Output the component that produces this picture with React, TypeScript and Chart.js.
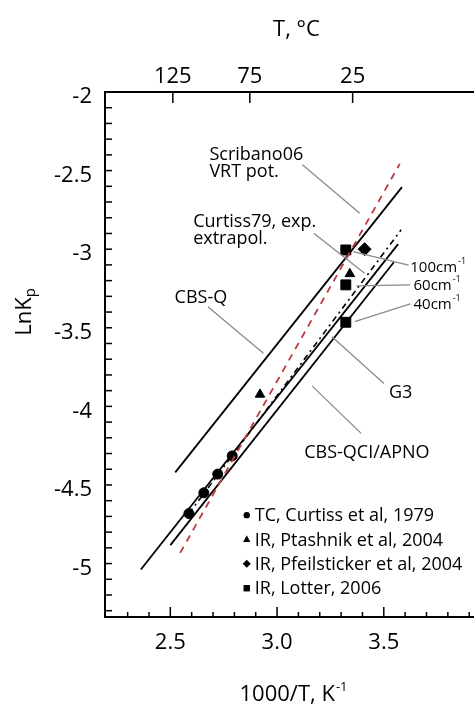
import React, { useEffect, useRef } from "react";
import { Chart, registerables } from "chart.js";

Chart.register(...registerables);

const FONT = '"Open Sans", "Noto Sans", "DejaVu Sans", sans-serif';

// ---- axes ----
const X_MIN = 2.194;
const X_MAX = 3.96;
const Y_MIN = -5.34;
const Y_MAX = -2;
const xTickValues = [2.5, 3.0, 3.5];
const yTickValues = [-5, -4.5, -4, -3.5, -3, -2.5, -2];
const topTickCelsius = [125, 75, 25];

// ---- measurements ----
const tcCurtissX = [2.587, 2.657, 2.722, 2.79];
const tcCurtissY = [-4.682, -4.55, -4.431, -4.315];
const ptashnikX = [2.92, 3.341];
const ptashnikY = [-3.924, -3.157];
const pfeilstickerX = [3.41];
const pfeilstickerY = [-3.0];
const lotterX = [3.322, 3.322, 3.322];
const lotterY = [-3.005, -3.227, -3.465];

// ---- model / fit lines (end points) ----
const cbsqX = [2.523, 3.585];
const cbsqY = [-4.42, -2.605];
const scribanoX = [2.546, 3.575];
const scribanoY = [-4.932, -2.457];
const curtissFitX = [2.587, 3.581];
const curtissFitY = [-4.682, -2.877];
const g3X = [2.362, 3.567];
const g3Y = [-5.038, -2.968];
const cbsqciX = [2.5, 3.547];
const cbsqciY = [-4.883, -3.083];

// ---- annotations (data units) ----
const annotationTexts = [
  { lines: ["Scribano06", "VRT pot."], x: 2.683, y: -2.399 },
  { lines: ["Curtiss79, exp.", "extrapol."], x: 2.607, y: -2.824 },
  { lines: ["CBS-Q"], x: 2.52, y: -3.307 },
  { lines: ["G3"], x: 3.524, y: -3.912 },
  { lines: ["CBS-QCI/APNO"], x: 3.127, y: -4.294 },
];
const leaderLines = [
  [3.119, -2.463, 3.387, -2.771],
  [3.172, -2.898, 3.41, -3.153],
  [2.676, -3.366, 2.936, -3.662],
  [3.501, -3.854, 3.257, -3.557],
  [3.394, -4.172, 3.165, -3.871],
  [3.616, -3.102, 3.356, -3.015],
  [3.624, -3.227, 3.372, -3.234],
  [3.624, -3.348, 3.364, -3.461],
];
const wavenumberTexts = [
  { value: "100", x: 3.624, y: -3.119 },
  { value: "60", x: 3.639, y: -3.231 },
  { value: "40", x: 3.639, y: -3.352 },
];
const legendX = 2.858;
const legendY0 = -4.692;
const legendStep = 0.155;

const pts = (xs: number[], ys: number[]) => xs.map((x, i) => ({ x, y: ys[i] }));

const lineDs = (label: string, xs: number[], ys: number[], color: string, dash: number[] = [], width = 1.8) => ({
  label,
  data: pts(xs, ys),
  showLine: true,
  borderColor: color,
  backgroundColor: color,
  borderWidth: width,
  borderDash: dash,
  pointRadius: 0,
  pointHoverRadius: 0,
  fill: false,
  tension: 0,
});

const markerDs = (label: string, xs: number[], ys: number[], style: string, radius: number, legendR: number) => ({
  label,
  data: pts(xs, ys),
  showLine: false,
  pointStyle: style,
  pointRadius: radius,
  pointHoverRadius: radius,
  backgroundColor: "#000",
  borderColor: "#000",
  borderWidth: 1,
  legendMarker: true,
  legendR,
});

function drawShape(ctx: CanvasRenderingContext2D, style: string, x: number, y: number, r: number) {
  ctx.beginPath();
  if (style === "circle") ctx.arc(x, y, r, 0, Math.PI * 2);
  else if (style === "triangle") {
    ctx.moveTo(x, y - r * 1.15);
    ctx.lineTo(x + r, y + r * 0.7);
    ctx.lineTo(x - r, y + r * 0.7);
    ctx.closePath();
  } else if (style === "rectRot") {
    ctx.moveTo(x, y - r);
    ctx.lineTo(x + r, y);
    ctx.lineTo(x, y + r);
    ctx.lineTo(x - r, y);
    ctx.closePath();
  } else ctx.rect(x - r, y - r, 2 * r, 2 * r);
  ctx.fill();
}

const decorPlugin = {
  id: "decor",
  afterDraw(chart: any) {
    const { ctx, chartArea: ca, scales } = chart;
    const xs = scales.x;
    const ys = scales.y;
    const X = (v: number) => xs.getPixelForValue(v);
    const Y = (v: number) => ys.getPixelForValue(v);
    const seg = (x1: number, y1: number, x2: number, y2: number) => {
      ctx.beginPath();
      ctx.moveTo(x1, y1);
      ctx.lineTo(x2, y2);
      ctx.stroke();
    };
    ctx.save();
    // inward tick marks
    ctx.strokeStyle = "#000";
    ctx.lineWidth = 1.5;
    for (let k = 22; k <= 39; k++) {
      const px = X(k / 10);
      if (px < ca.left + 2 || px > ca.right) continue;
      seg(px, ca.bottom, px, ca.bottom - (k % 5 === 0 ? 10 : 5));
    }
    for (let k = 21; k <= 53; k++) {
      const py = Y(-k / 10);
      seg(ca.left, py, ca.left + 7, py);
    }
    topTickCelsius.forEach((t) => {
      const px = X(1000 / (t + 273.15));
      seg(px, ca.top, px, ca.top + 11);
    });

    // leader lines
    ctx.strokeStyle = "#8a8a8a";
    ctx.lineWidth = 1.3;
    leaderLines.forEach(([x1, y1, x2, y2]) => seg(X(x1), Y(y1), X(x2), Y(y2)));

    // annotation texts
    ctx.fillStyle = "#000";
    ctx.textBaseline = "middle";
    ctx.textAlign = "left";
    ctx.font = `18px ${FONT}`;
    annotationTexts.forEach((a) => {
      a.lines.forEach((s, i) => ctx.fillText(s, X(a.x), Y(a.y) + i * 17.5));
    });
    wavenumberTexts.forEach((w) => {
      ctx.font = `15px ${FONT}`;
      const s = w.value + "cm";
      ctx.fillText(s, X(w.x), Y(w.y));
      const wd = ctx.measureText(s).width;
      ctx.font = `9px ${FONT}`;
      ctx.fillText("-1", X(w.x) + wd + 1, Y(w.y) - 6);
    });

    // legend
    const items = chart.data.datasets.filter((d: any) => d.legendMarker);
    items.forEach((d: any, i: number) => {
      const mx = X(legendX);
      const my = Y(legendY0) + i * legendStep * (Y(-3) - Y(-2));
      ctx.fillStyle = "#000";
      drawShape(ctx, d.pointStyle, mx, my, d.legendR);
      ctx.font = `18px ${FONT}`;
      ctx.fillText(d.label, mx + 8, my + 1);
    });

    // axis titles
    const cx = (ca.left + ca.right) / 2;
    ctx.textAlign = "left";
    ctx.font = `22px ${FONT}`;
    const t1 = "T, °C";
    const w1 = ctx.measureText(t1).width;
    ctx.fillText(t1, cx - w1 / 2 + 3, 30);

    const base = "1000/T, K";
    ctx.font = `22px ${FONT}`;
    const wb = ctx.measureText(base).width;
    ctx.font = `13px ${FONT}`;
    const ws = ctx.measureText("-1").width;
    const sx = cx - (wb + ws + 1) / 2;
    ctx.font = `22px ${FONT}`;
    ctx.fillText(base, sx, 695);
    ctx.font = `13px ${FONT}`;
    ctx.fillText("-1", sx + wb + 1, 687);

    ctx.translate(25, 312);
    ctx.rotate(-Math.PI / 2);
    ctx.font = `22px ${FONT}`;
    const wl = ctx.measureText("LnK").width;
    ctx.font = `15px ${FONT}`;
    const wp = ctx.measureText("p").width;
    const lx = -(wl + wp) / 2;
    ctx.font = `22px ${FONT}`;
    ctx.fillText("LnK", lx, 0);
    ctx.font = `15px ${FONT}`;
    ctx.fillText("p", lx + wl, 6);
    ctx.restore();
  },
};

export default function App() {
  const ref = useRef<HTMLCanvasElement | null>(null);
  useEffect(() => {
    if (!ref.current) return;
    const chart = new Chart(ref.current, {
      type: "scatter",
      data: {
        datasets: [
          lineDs("Scribano06 VRT pot.", scribanoX, scribanoY, "#c0393b", [7, 6], 1.8),
          lineDs("CBS-Q", cbsqX, cbsqY, "#000"),
          lineDs("Curtiss79, exp. extrapol.", curtissFitX, curtissFitY, "#000", [6, 4, 2, 4], 1.6),
          lineDs("G3", g3X, g3Y, "#000"),
          lineDs("CBS-QCI/APNO", cbsqciX, cbsqciY, "#000"),
          markerDs("TC, Curtiss et al, 1979", tcCurtissX, tcCurtissY, "circle", 5, 3.2),
          markerDs("IR, Ptashnik et al, 2004", ptashnikX, ptashnikY, "triangle", 5.5, 3.6),
          markerDs("IR, Pfeilsticker et al, 2004", pfeilstickerX, pfeilstickerY, "rectRot", 6.5, 4),
          markerDs("IR, Lotter, 2006", lotterX, lotterY, "rect", 7, 3.2),
        ] as any,
      },
      options: {
        animation: false,
        responsive: false,
        devicePixelRatio: 1,
        layout: { padding: 0 },
        plugins: { legend: { display: false }, tooltip: { enabled: false }, title: { display: false } },
        scales: {
          x: {
            type: "linear",
            position: "bottom",
            min: X_MIN,
            max: X_MAX,
            afterBuildTicks: (s: any) => {
              s.ticks = xTickValues.map((v) => ({ value: v }));
            },
            afterFit: (s: any) => {
              s.height = 88;
            },
            ticks: {
              color: "#000",
              font: { family: FONT, size: 22 },
              padding: 13,
              maxRotation: 0,
              autoSkip: false,
              callback: (v: any) => Number(v).toFixed(1),
            },
            grid: { display: false, drawTicks: false },
            border: { display: true, color: "#000", width: 2 },
          },
          x2: {
            type: "linear",
            axis: "x",
            position: "top",
            min: X_MIN,
            max: X_MAX,
            afterBuildTicks: (s: any) => {
              s.ticks = topTickCelsius.map((t) => ({ value: 1000 / (t + 273.15) }));
            },
            afterFit: (s: any) => {
              s.height = 92;
            },
            ticks: {
              color: "#000",
              font: { family: FONT, size: 22 },
              padding: 2,
              maxRotation: 0,
              autoSkip: false,
              callback: (_v: any, i: number) => String(topTickCelsius[i]),
            },
            grid: { display: false, drawTicks: false },
            border: { display: true, color: "#000", width: 2 },
          },
          y: {
            type: "linear",
            position: "left",
            min: Y_MIN,
            max: Y_MAX,
            afterBuildTicks: (s: any) => {
              s.ticks = yTickValues.map((v) => ({ value: v }));
            },
            afterFit: (s: any) => {
              s.width = 105;
            },
            ticks: {
              color: "#000",
              font: { family: FONT, size: 22 },
              padding: 13,
              labelOffset: 5,
              autoSkip: false,
              callback: (v: any) => String(v),
            },
            grid: { display: false, drawTicks: false },
            border: { display: true, color: "#000", width: 2 },
          },
        },
      } as any,
      plugins: [decorPlugin],
    });
    return () => chart.destroy();
  }, []);

  return (
    <div
      style={{
        position: "fixed",
        left: 0,
        top: 0,
        width: 474,
        height: 705,
        overflow: "hidden",
        background: "#fff",
      }}
    >
      <canvas ref={ref} width={490} height={705} style={{ display: "block", width: 490, height: 705 }} />
    </div>
  );
}
